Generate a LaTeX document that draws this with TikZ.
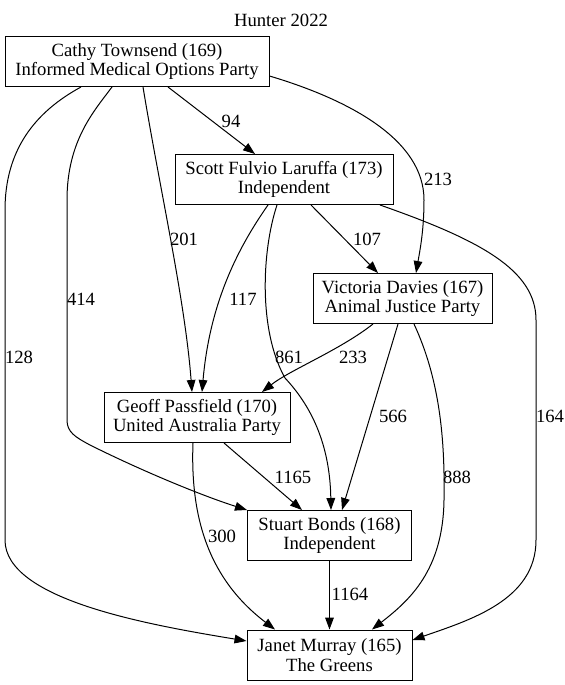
\documentclass[tikz,border=0pt]{standalone}
\usepackage{fontspec}
\setmainfont{Liberation Serif}
\usetikzlibrary{arrows.meta,calc}
\tikzset{every picture/.style={line width=0.75pt}}
\tikzset{
	cand/.style={draw, rectangle, align=center, minimum height=37.5pt, inner sep=0pt, font=\fontsize{14}{14.5}\selectfont},
	vote/.style={font=\fontsize{14}{14.5}\selectfont, inner sep=0pt},
	flow/.style={-{Triangle[length=9pt,width=6.5pt]}}}

\begin{document}
\begin{tikzpicture}[x=0.75pt,y=0.75pt,yscale=-1,xscale=1]
	\useasboundingbox (0,0) rectangle (564,685);

	% Text Node
	\draw (281,20) node [vote] (title) {Hunter 2022};

	% Candidate boxes
	\node [cand, minimum width=198pt] (cathy) at (137,61.5) {Cathy Townsend (169)\\Informed Medical Options Party};
	\node [cand, minimum width=163.5pt] (scott) at (284,179.5) {Scott Fulvio Laruffa (173)\\Independent};
	\node [cand, minimum width=134.25pt] (victoria) at (402.5,298.5) {Victoria Davies (167)\\Animal Justice Party};
	\node [cand, minimum width=139.5pt] (geoff) at (197,417.5) {Geoff Passfield (170)\\United Australia Party};
	\node [cand, minimum width=123pt] (stuart) at (329.5,535.5) {Stuart Bonds (168)\\Independent};
	\node [cand, minimum width=123.75pt] (janet) at (329.5,655) {Janet Murray (165)\\The Greens};

	%Curve Lines from Cathy Townsend
	\draw [flow] ($(cathy.south)+(-56,0)$) .. controls (35,112) and (5,150) .. (5,210) -- (5,540) .. controls (5,600) and (150,625) .. ($(janet.west)+(0,-14)$) node [vote] at (19,357) {128};
	\draw [flow] ($(cathy.south)+(-25,0)$) .. controls (95,110) and (67,140) .. (67,200) -- (67,420) .. controls (67,432) and (75,437) .. (90,445) .. controls (140,470) and (200,495) .. (stuart.north west) node [vote] at (81,299) {414};
	\draw [flow] ($(cathy.south)+(6,0)$) .. controls (160,190) and (185,300) .. ($(geoff.north)+(-5,0)$) node [vote] at (184,239) {201};
	\draw [flow] ($(cathy.south)+(31,0)$) -- ($(scott.north)+(-29,0)$) node [vote] at (231,121) {94};
	\draw [flow] ($(cathy.east)+(0,14.5)$) .. controls (350,100) and (424,140) .. (424,200) .. controls (424,230) and (420,250) .. ($(victoria.north)+(13.5,0)$) node [vote] at (438,179) {213};

	%Curve Lines from Scott Fulvio Laruffa
	\draw [flow] ($(scott.south)+(-16,0)$) .. controls (240,245) and (210,300) .. ($(geoff.north)+(5,0)$) node [vote] at (243,299) {117};
	\draw [flow] ($(scott.south)+(-7,0)$) .. controls (262,250) and (258,330) .. (285,378) .. controls (315,410) and (330,450) .. ($(stuart.north)+(1.5,0)$) node [vote] at (289,357) {861};
	\draw [flow] ($(scott.south)+(27,0)$) -- ($(victoria.north)+(-24.5,0)$) node [vote] at (367,239) {107};
	\draw [flow] ($(scott.south)+(96,0)$) .. controls (480,240) and (536,270) .. (536,320) -- (536,540) .. controls (536,600) and (470,620) .. ($(janet.east)+(0,-15)$) node [vote] at (550,416) {164};

	%Curve Lines from Victoria Davies
	\draw [flow] ($(victoria.south)+(-29.5,0)$) .. controls (340,350) and (290,370) .. ($(geoff.north)+(65,0)$) node [vote] at (353,357) {233};
	\draw [flow] ($(victoria.south)+(-4.5,0)$) -- ($(stuart.north)+(12.5,0)$) node [vote] at (393,416) {566};
	\draw [flow] ($(victoria.south)+(11.5,0)$) .. controls (440,380) and (445,440) .. (444,500) .. controls (443,570) and (410,600) .. ($(janet.north)+(42.5,0)$) node [vote] at (457,477) {888};

	%Curve Lines from Geoff Passfield
	\draw [flow] ($(geoff.south)+(27,0)$) -- ($(stuart.north)+(-27.5,0)$) node [vote] at (293,477) {1165};
	\draw [flow] ($(geoff.south)+(-4,0)$) .. controls (190,520) and (210,580) .. ($(janet.north)+(-54.5,0)$) node [vote] at (222,536) {300};

	%Straight Lines from Stuart Bonds
	\draw [flow] (stuart) -- (janet) node [vote] at (350,594) {1164};

\end{tikzpicture}
\end{document}
